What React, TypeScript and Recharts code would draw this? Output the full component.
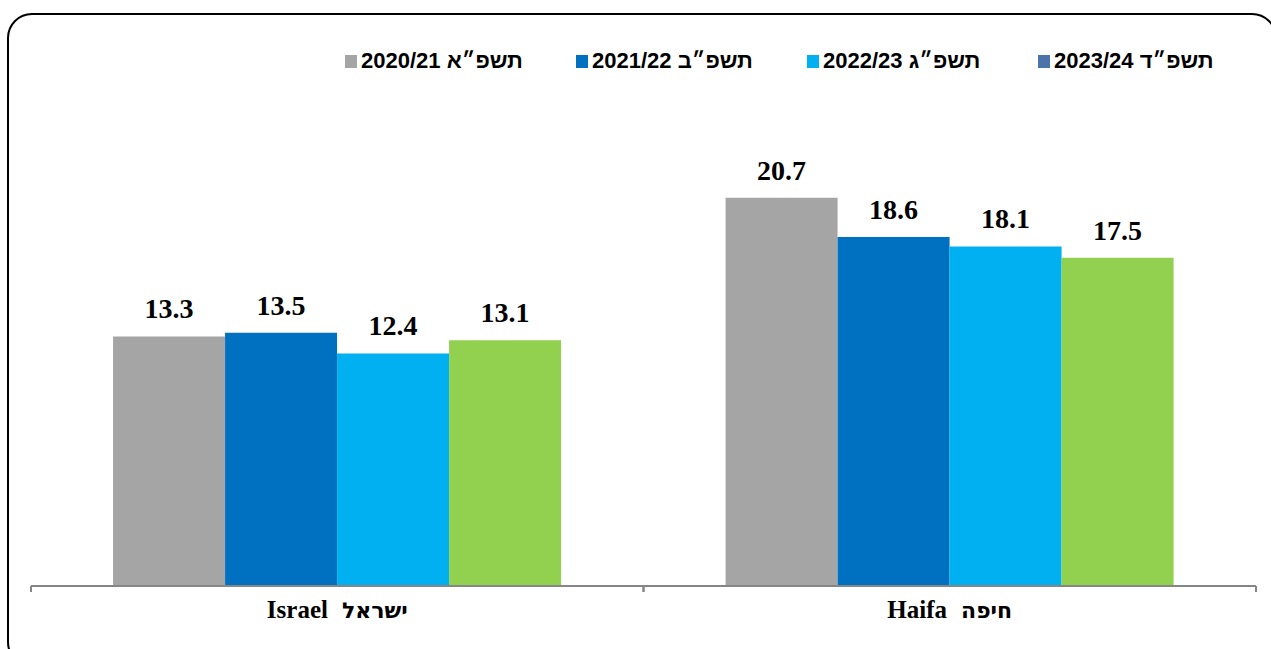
import React from 'react';
import { BarChart, Bar, XAxis, YAxis, Legend, LabelList } from 'recharts';

const categoriesLatin = ['Israel', 'Haifa'];
const categoriesHebrew = ['ישראל', 'חיפה'];
const categories = categoriesLatin.map((c, i) => `${c}  ${categoriesHebrew[i]}`);
const seriesNames = ['2020/21 תשפ״א', '2021/22 תשפ״ב', '2022/23 תשפ״ג', '2023/24 תשפ״ד'];
const values2021 = [13.3, 20.7];
const values2122 = [13.5, 18.6];
const values2223 = [12.4, 18.1];
const values2324 = [13.1, 17.5];
const barColors = ['#A5A5A5', '#0070C0', '#00B0F0', '#92D050'];
const legendColors = ['#A5A5A5', '#0070C0', '#00B0F0', '#4A74AA'];
const keys = ['s1', 's2', 's3', 's4'];
const seriesValues = [values2021, values2122, values2223, values2324];

const data = categories.map((c, i) => ({
  name: c,
  s1: seriesValues[0][i],
  s2: seriesValues[1][i],
  s3: seriesValues[2][i],
  s4: seriesValues[3][i],
}));

const CategoryTick = (props: any) => {
  const { x, y, payload } = props;
  const half = payload && payload.offset ? payload.offset : 306;
  const parts = String(payload.value).split('  ');
  return (
    <g>
      <line x1={x - half} y1={y - 8} x2={x - half} y2={y - 2} stroke="#868686" strokeWidth={2} />
      <line x1={x + half} y1={y - 8} x2={x + half} y2={y - 2} stroke="#868686" strokeWidth={2} />
      <text x={x} y={y + 24} textAnchor="middle" fill="#000" fontWeight="bold">
        <tspan fontFamily="'Liberation Serif', 'Times New Roman', serif" fontSize={25}>
          {parts[0]}
        </tspan>
        <tspan dx={14} fontFamily="'DejaVu Sans', sans-serif" fontSize={22}>
          {parts[1]}
        </tspan>
      </text>
    </g>
  );
};

const LegendContent = () => (
  <div style={{ display: 'flex', paddingLeft: 345 }}>
    {seriesNames.map((n, i) => (
      <div key={n} style={{ width: 231, display: 'flex', alignItems: 'center' }}>
        <span style={{ display: 'inline-block', width: 12, height: 13, background: legendColors[i], marginRight: 4 }} />
        <span
          style={{
            fontFamily: "'Liberation Sans', Arial, sans-serif",
            fontWeight: 'bold',
            fontSize: 22,
            color: '#000',
            whiteSpace: 'pre',
            lineHeight: '24px',
          }}
        >
          {n}
        </span>
      </div>
    ))}
  </div>
);

export default function App() {
  return (
    <div style={{ position: 'absolute', left: 0, top: 0, width: 1271, height: 649, overflow: 'hidden', background: '#fff' }}>
      <div
        style={{
          position: 'absolute',
          left: 7,
          top: 13,
          width: 1266,
          height: 650,
          border: '2px solid #000',
          borderRadius: 25,
        }}
      />
      <div style={{ position: 'absolute', left: 0, top: 0 }}>
        <BarChart
          width={1271}
          height={649}
          data={data}
          margin={{ top: 93, right: 15, bottom: 0, left: 31 }}
          barCategoryGap="13.4%"
          barGap={0}
        >
          <XAxis
            dataKey="name"
            axisLine={{ stroke: '#868686', strokeWidth: 2 }}
            tickLine={false}
            tick={<CategoryTick />}
            height={63}
            interval={0}
          />
          <YAxis hide domain={[0, 25]} />
          <Legend
            verticalAlign="top"
            content={<LegendContent />}
            wrapperStyle={{ position: 'absolute', top: 49, left: 0, width: 1271 }}
          />
          {keys.map((k, i) => (
            <Bar key={k} dataKey={k} name={seriesNames[i]} fill={barColors[i]} isAnimationActive={false}>
              <LabelList
                dataKey={k}
                position="top"
                offset={18}
                fill="#000"
                fontFamily="'Liberation Serif', 'Times New Roman', serif"
                fontWeight="bold"
                fontSize={28}
              />
            </Bar>
          ))}
        </BarChart>
      </div>
    </div>
  );
}
